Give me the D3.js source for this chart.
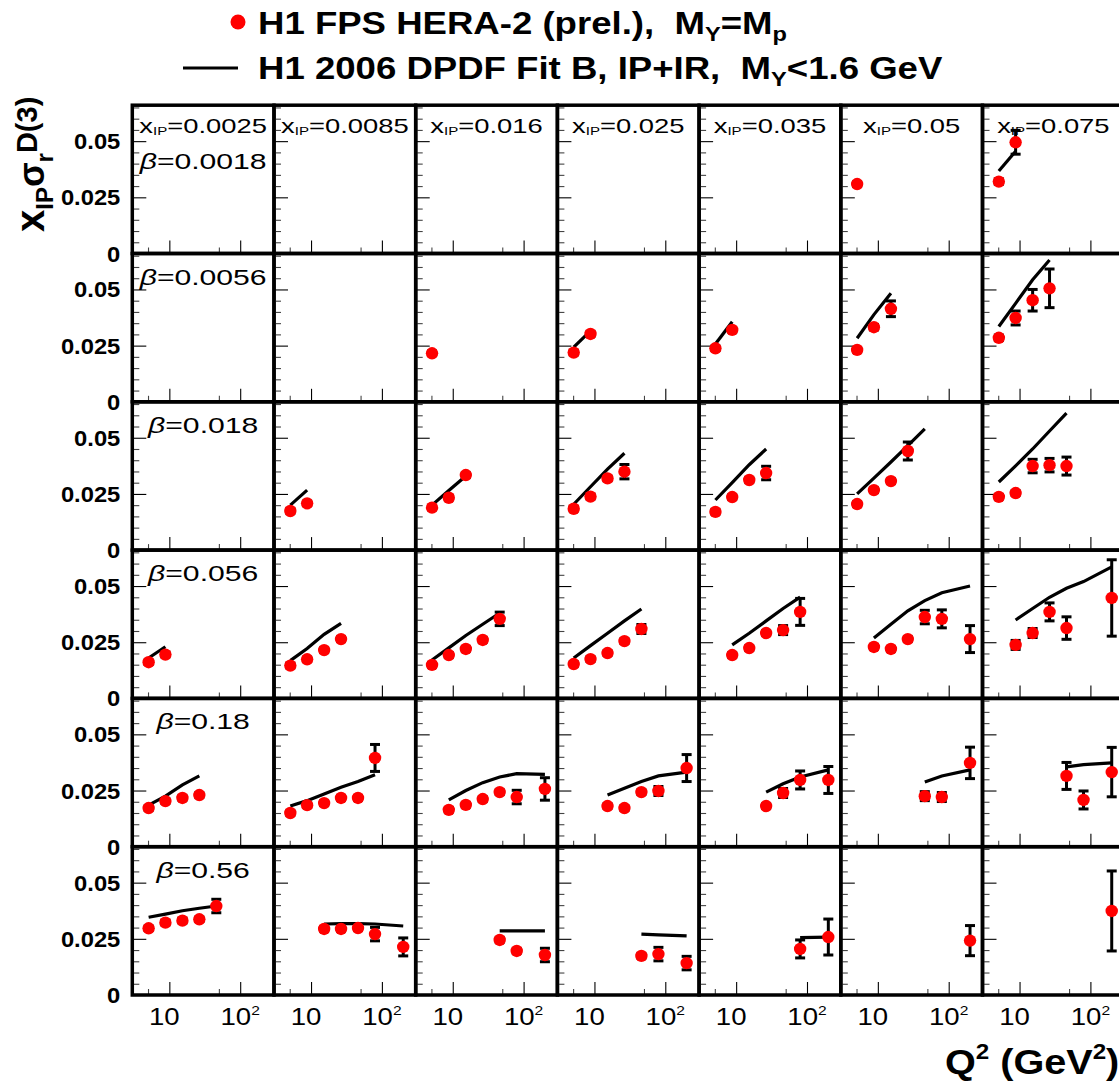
<!DOCTYPE html>
<html><head><meta charset="utf-8">
<script src="https://cdn.jsdelivr.net/npm/d3@7"></script>
<style>body{margin:0;background:#fff}svg{display:block}</style>
</head><body>
<svg id="c" width="1119" height="1082"></svg>
<script>
// ---------------- data ----------------
const xipLabels = ["0.0025","0.0085","0.016","0.025","0.035","0.05","0.075"];
const betaLabels = ["0.0018","0.0056","0.018","0.056","0.18","0.56"];
const xTickMajor = [10, 100];
const xTickMinor = [5, 50];
const xTickLabels = ["10", "10²"];
const yTickMajor = [0, 0.025, 0.05];
const yTickLabels = ["0", "0.025", "0.05"];

// points: [xIP column index, Q2, x_IP*sigma_r, error]
const pts_b0018 = [
  [5, 5.1, 0.0309, 0.001],
  [6, 5.1, 0.0320, 0.0012], [6, 8.8, 0.0495, 0.0053]
];
const pts_b0056 = [
  [2, 5.1, 0.0216, 0.001],
  [3, 5.1, 0.0219, 0.001], [3, 8.8, 0.0302, 0.001],
  [4, 5.1, 0.0238, 0.001], [4, 8.8, 0.0320, 0.001],
  [5, 5.1, 0.0231, 0.001], [5, 8.8, 0.0332, 0.0012], [5, 15.3, 0.0414, 0.0035],
  [6, 5.1, 0.0285, 0.0012], [6, 8.8, 0.0373, 0.0031], [6, 15.3, 0.0452, 0.0048], [6, 26.5, 0.0505, 0.0086]
];
const pts_b018 = [
  [1, 5.1, 0.0174, 0.001], [1, 8.8, 0.0208, 0.001],
  [2, 5.1, 0.0189, 0.001], [2, 8.8, 0.0233, 0.001], [2, 15.3, 0.0334, 0.001],
  [3, 5.1, 0.0184, 0.001], [3, 8.8, 0.0238, 0.001], [3, 15.3, 0.0319, 0.001], [3, 26.5, 0.0349, 0.0032],
  [4, 5.1, 0.0170, 0.001], [4, 8.8, 0.0236, 0.001], [4, 15.3, 0.0312, 0.001], [4, 26.5, 0.0343, 0.003],
  [5, 5.1, 0.0205, 0.001], [5, 8.8, 0.0267, 0.001], [5, 15.3, 0.0307, 0.001], [5, 26.5, 0.0441, 0.004],
  [6, 5.1, 0.0237, 0.001], [6, 8.8, 0.0254, 0.001], [6, 15.3, 0.0374, 0.003], [6, 26.5, 0.0378, 0.003], [6, 46, 0.0374, 0.004]
];
const pts_b056 = [
  [0, 5.1, 0.0161, 0.001], [0, 8.8, 0.0195, 0.001],
  [1, 5.1, 0.0146, 0.001], [1, 8.8, 0.0174, 0.001], [1, 15.3, 0.0215, 0.001], [1, 26.5, 0.0264, 0.001],
  [2, 5.1, 0.0149, 0.001], [2, 8.8, 0.0193, 0.001], [2, 15.3, 0.0220, 0.001], [2, 26.5, 0.0260, 0.001], [2, 46, 0.0354, 0.003],
  [3, 5.1, 0.0153, 0.001], [3, 8.8, 0.0175, 0.001], [3, 15.3, 0.0202, 0.001], [3, 26.5, 0.0255, 0.001], [3, 46, 0.0309, 0.002],
  [4, 8.8, 0.0193, 0.001], [4, 15.3, 0.0224, 0.001], [4, 26.5, 0.0291, 0.001], [4, 46, 0.0304, 0.002], [4, 80, 0.0385, 0.006],
  [5, 8.8, 0.0229, 0.001], [5, 15.3, 0.0220, 0.001], [5, 26.5, 0.0264, 0.001], [5, 46, 0.0362, 0.003], [5, 80, 0.0354, 0.004], [5, 200, 0.0264, 0.006],
  [6, 8.8, 0.0238, 0.002], [6, 15.3, 0.0291, 0.002], [6, 26.5, 0.0385, 0.004], [6, 46, 0.0313, 0.005], [6, 200, 0.0447, 0.017]
];
const pts_b18 = [
  [0, 5.1, 0.0172, 0.001], [0, 8.8, 0.0203, 0.001], [0, 15.3, 0.0217, 0.001], [0, 26.5, 0.0230, 0.001],
  [1, 5.1, 0.0150, 0.001], [1, 8.8, 0.0185, 0.001], [1, 15.3, 0.0194, 0.001], [1, 26.5, 0.0217, 0.001], [1, 46, 0.0217, 0.001], [1, 80, 0.0395, 0.006],
  [2, 8.8, 0.0164, 0.001], [2, 15.3, 0.0186, 0.001], [2, 26.5, 0.0212, 0.001], [2, 46, 0.0243, 0.001], [2, 80, 0.0221, 0.003], [2, 200, 0.0257, 0.005],
  [3, 15.3, 0.0181, 0.001], [3, 26.5, 0.0172, 0.001], [3, 46, 0.0243, 0.001], [3, 80, 0.0248, 0.002], [3, 200, 0.0350, 0.006],
  [4, 26.5, 0.0181, 0.001], [4, 46, 0.0239, 0.002], [4, 80, 0.0297, 0.004], [4, 200, 0.0297, 0.006],
  [5, 46, 0.0225, 0.002], [5, 80, 0.0221, 0.002], [5, 200, 0.0373, 0.007],
  [6, 46, 0.0315, 0.006], [6, 80, 0.0208, 0.004], [6, 200, 0.0332, 0.011]
];
const pts_b56 = [
  [0, 5.1, 0.0297, 0.001], [0, 8.8, 0.0322, 0.001], [0, 15.3, 0.0331, 0.001], [0, 26.5, 0.0337, 0.001], [0, 46, 0.0396, 0.003],
  [1, 15.3, 0.0294, 0.001], [1, 26.5, 0.0294, 0.001], [1, 46, 0.0298, 0.001], [1, 80, 0.0271, 0.003], [1, 200, 0.0214, 0.004],
  [2, 46, 0.0245, 0.001], [2, 80, 0.0196, 0.001], [2, 200, 0.0178, 0.003],
  [3, 46, 0.0174, 0.001], [3, 80, 0.0182, 0.003], [3, 200, 0.0142, 0.003],
  [4, 80, 0.0205, 0.004], [4, 200, 0.0258, 0.008],
  [5, 200, 0.0242, 0.0067],
  [6, 200, 0.0374, 0.0178]
];

// fit curves: [xIP column index, Q2 nodes, values]
const fit_b0018 = [
  [6, [5.1, 8.8], [0.0367, 0.0455]]
];
const fit_b0056 = [
  [3, [5.1, 8.8], [0.0243, 0.0316]],
  [4, [5.1, 8.8], [0.0257, 0.0356]],
  [5, [5.1, 8.8, 15.3], [0.0283, 0.0388, 0.0483]],
  [6, [5.1, 8.8, 15.3, 26.5], [0.0335, 0.0438, 0.0543, 0.0631]]
];
const fit_b018 = [
  [1, [5.1, 8.8], [0.0200, 0.0267]],
  [2, [5.1, 8.8, 15.3], [0.0200, 0.0265, 0.0330]],
  [3, [5.1, 8.8, 15.3, 26.5], [0.0204, 0.0282, 0.0360, 0.0431]],
  [4, [5.1, 8.8, 15.3, 26.5], [0.0223, 0.0300, 0.0380, 0.0450]],
  [5, [5.1, 8.8, 15.3, 26.5, 46], [0.0250, 0.0320, 0.0392, 0.0465, 0.0540]],
  [6, [5.1, 8.8, 15.3, 26.5, 46], [0.0303, 0.0375, 0.0450, 0.0530, 0.0610]]
];
const fit_b056 = [
  [0, [5.1, 8.8], [0.0180, 0.0230]],
  [1, [5.1, 8.8, 15.3, 26.5], [0.0168, 0.0222, 0.0285, 0.0334]],
  [2, [5.1, 8.8, 15.3, 26.5, 46], [0.0171, 0.0225, 0.0280, 0.0330, 0.0380]],
  [3, [5.1, 8.8, 15.3, 26.5, 46], [0.0180, 0.0235, 0.0290, 0.0345, 0.0398]],
  [4, [8.8, 15.3, 26.5, 46, 80], [0.0238, 0.0290, 0.0345, 0.0400, 0.0451]],
  [5, [8.8, 15.3, 26.5, 46, 80, 200], [0.0269, 0.0330, 0.0390, 0.0435, 0.0470, 0.0500]],
  [6, [8.8, 15.3, 26.5, 46, 80, 200], [0.0349, 0.0400, 0.0450, 0.0490, 0.0520, 0.0585]]
];
const fit_b18 = [
  [0, [5.1, 8.8, 15.3, 26.5], [0.0185, 0.0225, 0.0275, 0.0315]],
  [1, [5.1, 8.8, 15.3, 26.5, 46, 80], [0.0181, 0.0205, 0.0235, 0.0265, 0.0290, 0.0320]],
  [2, [8.8, 15.3, 26.5, 46, 80, 200], [0.0208, 0.0250, 0.0285, 0.0310, 0.0325, 0.0322]],
  [3, [15.3, 26.5, 46, 80, 200], [0.0230, 0.0260, 0.0290, 0.0315, 0.0332]],
  [4, [26.5, 46, 80, 200], [0.0243, 0.0280, 0.0310, 0.0342]],
  [5, [46, 80, 200], [0.0288, 0.0315, 0.0342]],
  [6, [46, 80, 200], [0.0355, 0.0365, 0.0373]]
];
const fit_b56 = [
  [0, [5.1, 8.8, 15.3, 26.5, 46], [0.0346, 0.0360, 0.0375, 0.0386, 0.0396]],
  [1, [15.3, 26.5, 46, 80, 200], [0.0316, 0.0318, 0.0318, 0.0316, 0.0307]],
  [2, [46, 80, 200], [0.0285, 0.0285, 0.0285]],
  [3, [46, 80, 200], [0.0271, 0.0268, 0.0263]],
  [4, [80, 200], [0.0255, 0.0258]]
];

const rowsPts = [pts_b0018, pts_b0056, pts_b018, pts_b056, pts_b18, pts_b56];
const rowsFit = [fit_b0018, fit_b0056, fit_b018, fit_b056, fit_b18, fit_b56];

// ---------------- layout ----------------
const gridLeft = 132.3, colW = 141.7, gridTop = 105.2, rowH = 148.3;
const nCols = 7, nRows = 6;
const svg = d3.select("#c");
const FONT = "'Liberation Sans', Arial, Helvetica, sans-serif";
const NB = "\u00a0";

const x = d3.scaleLog().domain([3, 300]).range([0, colW]);
const y = d3.scaleLinear().domain([0, 0.066]).range([rowH, 0]);

function stretchText(parent, tx, ty, sx, anchor, size, weight) {
  const g = parent.append("g").attr("transform", `translate(${tx},${ty}) scale(${sx},1)`);
  return g.append("text").attr("text-anchor", anchor).attr("font-family", FONT)
    .attr("font-size", size).attr("font-weight", weight).attr("fill", "#000");
}

const yMinor = d3.range(1, 14).map(i => i * 0.005).filter(v => Math.abs(v - 0.025) > 1e-6 && Math.abs(v - 0.05) > 1e-6);

for (let r = 0; r < nRows; r++) {
  for (let c = 0; c < nCols; c++) {
    const g = svg.append("g").attr("transform", `translate(${gridLeft + c * colW},${gridTop + r * rowH})`);
    // ticks
    const axB1 = g.append("g").attr("transform", `translate(0,${rowH})`)
      .call(d3.axisBottom(x).tickValues(xTickMajor).tickSize(-13).tickFormat(""));
    const axB2 = g.append("g").attr("transform", `translate(0,${rowH})`)
      .call(d3.axisBottom(x).tickValues(xTickMinor).tickSize(-6).tickFormat(""));
    const axL1 = g.append("g").call(d3.axisLeft(y).tickValues(yTickMajor).tickSize(-14).tickFormat(""));
    const axL2 = g.append("g").call(d3.axisLeft(y).tickValues(yMinor).tickSize(-7).tickFormat(""));
    [axB1, axB2, axL1, axL2].forEach(a => {
      a.select(".domain").remove();
      a.selectAll("line").attr("stroke", "#000").attr("stroke-width", 1.1);
    });
    axB2.selectAll("line").attr("stroke", "#444");
    axL2.selectAll("line").attr("stroke", "#444");

    // fit curves
    const line = d3.line().x(d => x(d[0])).y(d => y(d[1]));
    rowsFit[r].filter(f => f[0] === c).forEach(f => {
      const pts = f[1].map((q, i) => [q, f[2][i]]);
      g.append("path").attr("d", line(pts)).attr("fill", "none")
        .attr("stroke", "#000").attr("stroke-width", 3.2);
    });

    // data
    const data = rowsPts[r].filter(p => p[0] === c);
    data.forEach(p => {
      const px = x(p[1]), y0 = y(p[2] - p[3]), y1 = y(p[2] + p[3]);
      g.append("line").attr("x1", px).attr("x2", px).attr("y1", y0).attr("y2", y1)
        .attr("stroke", "#000").attr("stroke-width", 3);
      [y0, y1].forEach(yy => g.append("line").attr("x1", px - 5).attr("x2", px + 5)
        .attr("y1", yy).attr("y2", yy).attr("stroke", "#000").attr("stroke-width", 3));
    });
    g.selectAll("circle.pt").data(data).join("circle").attr("class", "pt")
      .attr("cx", d => x(d[1])).attr("cy", d => y(d[2])).attr("r", 6.2).attr("fill", "#ff0000");

    // frame
    g.append("rect").attr("x", 0).attr("y", 0).attr("width", colW).attr("height", rowH)
      .attr("fill", "none").attr("stroke", "#000").attr("stroke-width", 3.5);

    // x_IP labels (top row)
    if (r === 0) {
      const t = stretchText(g, colW / 2, 28, 1.37, "middle", 20, "normal");
      t.append("tspan").text("x");
      t.append("tspan").attr("font-size", 11).attr("dy", 2).text("IP");
      t.append("tspan").attr("dy", -2).text("=" + xipLabels[c]);
    }
    // beta labels (first column)
    if (c === 0) {
      const t = stretchText(g, colW / 2, r === 0 ? 64 : 31, 1.37, "middle", 22, "normal");
      t.append("tspan").attr("font-style", "italic").text("β");
      t.append("tspan").text("=" + betaLabels[r]);
    }
    // y tick labels
    if (c === 0) {
      yTickMajor.forEach((v, i) => {
        stretchText(svg, gridLeft - 12, gridTop + r * rowH + y(v) + 8, 1.08, "end", 22, "bold").text(yTickLabels[i]);
      });
    }
    // x tick labels
    if (r === nRows - 1) {
      xTickMajor.forEach((v, i) => {
        if (i === 0) {
          stretchText(g, x(v) - 5, rowH + 30, 1.2, "middle", 23, "normal").text(xTickLabels[0]);
        } else {
          const t = stretchText(g, x(v), rowH + 30, 1.2, "middle", 23, "normal");
          t.append("tspan").text("10");
          t.append("tspan").attr("font-size", 13).attr("dy", -10).text("2");
        }
      });
    }
  }
}

// axis titles
{
  const t = stretchText(svg, 945, 1074, 1.1, "start", 36, "bold");
  t.append("tspan").text("Q");
  t.append("tspan").attr("font-size", 22).attr("dy", -15).text("2");
  t.append("tspan").attr("dy", 15).text(NB + "(GeV");
  t.append("tspan").attr("font-size", 22).attr("dy", -15).text("2");
  t.append("tspan").attr("dy", 15).text(")");
}
{
  const g = svg.append("g").attr("transform", "translate(44,232) rotate(-90)");
  const t = g.append("text").attr("font-family", FONT).attr("font-weight", "bold").attr("font-size", 40);
  t.append("tspan").text("x");
  t.append("tspan").attr("font-size", 24).attr("dy", 9).text("IP");
  t.append("tspan").attr("font-size", 36).attr("dy", -9).text("σ");
  t.append("tspan").attr("font-size", 24).attr("dy", 9).text("r");
  t.append("tspan").attr("font-size", 29).attr("dy", -16).text("D(3)");
}

// legend
svg.append("circle").attr("cx", 238).attr("cy", 22).attr("r", 7.5).attr("fill", "#ff0000");
svg.append("line").attr("x1", 183).attr("x2", 238).attr("y1", 68).attr("y2", 68)
  .attr("stroke", "#000").attr("stroke-width", 3);
{
  const t = stretchText(svg, 258, 34, 1.18, "start", 31, "bold");
  t.append("tspan").text("H1 FPS HERA-2 (prel.)," + NB + NB + "M");
  t.append("tspan").attr("font-size", 20).attr("dy", 7).text("Y");
  t.append("tspan").attr("dy", -7).text("=M");
  t.append("tspan").attr("font-size", 20).attr("dy", 7).text("p");
}
{
  const t = stretchText(svg, 258, 79, 1.18, "start", 31, "bold");
  t.append("tspan").text("H1 2006 DPDF Fit B, IP+IR," + NB + NB + "M");
  t.append("tspan").attr("font-size", 20).attr("dy", 7).text("Y");
  t.append("tspan").attr("dy", -7).text("<1.6 GeV");
}
</script>
</body></html>
